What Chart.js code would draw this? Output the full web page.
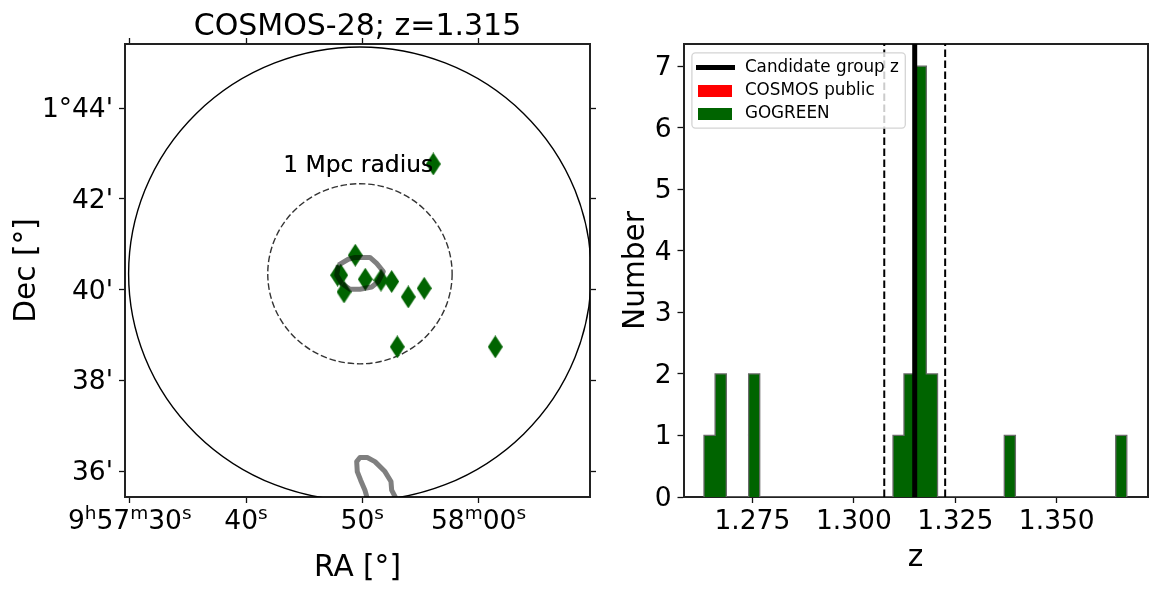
<!DOCTYPE html>
<html>
<head>
<meta charset="utf-8">
<script src="https://cdn.jsdelivr.net/npm/chart.js@4"></script>
<style>
  body { margin: 0; background: #fff; }
  canvas { position: absolute; top: 0; }
  #sky { left: 0; }
  #hist { left: 600px; }
</style>
</head>
<body>
<canvas id="sky" width="600" height="593"></canvas>
<canvas id="hist" width="560" height="593"></canvas>
<script>
// left panel: RA in seconds past 9h57m, Dec in arcmin past 1 deg
var raTicks = [30, 40, 50, 60];
// pairs of normal text and its superscript
var raTickLabels = [['9', 'h', '57', 'm', '30', 's'], ['40', 's'], ['50', 's'], ['58', 'm', '00', 's']];
var decTicks = [36, 38, 40, 42, 44];
var decTickLabels = ["36'", "38'", "40'", "42'", "1°44'"];

var memberRa = [56.11, 49.40, 47.88, 48.14, 48.43, 50.26, 51.61, 52.53, 53.96, 55.33, 53.01, 61.44];
var memberDec = [42.77, 40.76, 40.32, 40.32, 39.95, 40.23, 40.21, 40.18, 39.84, 40.03, 38.74, 38.74];

var contourRa = [47.94, 48.80, 49.37, 50.66, 51.24, 51.81, 51.38, 50.81, 49.80, 48.94, 48.23, 47.80, 47.94];
var contourDec = [40.54, 40.67, 40.71, 40.71, 40.58, 40.40, 40.18, 40.06, 40.01, 40.01, 40.14, 40.32, 40.54];
var contour2Ra = [50.43, 50.23, 49.86, 49.57, 49.52, 49.80, 50.43, 51.09, 51.95, 52.47, 52.53, 52.90];
var contour2Dec = [35.40, 35.58, 35.80, 35.99, 36.21, 36.30, 36.30, 36.21, 35.99, 35.77, 35.58, 35.40];

var fieldCentre = [49.80, 40.35];
var fieldRadius = [19.9, 5.0];   // s, arcmin
var mpcRadius = [7.93, 1.985];

// right panel: stepped histogram, one count per left bin edge
var binEdges = [1.2631, 1.2631, 1.26584, 1.2686, 1.27409, 1.27682, 1.30966, 1.31236, 1.31512, 1.31786, 1.32062, 1.33707, 1.3398, 1.36451, 1.36724];
var binCounts = [0, 1, 2, 0, 2, 0, 1, 2, 7, 2, 0, 1, 0, 1, 0];
var cosmosCounts = [];
var groupZ = 1.315;
var groupLimits = [1.3075, 1.3225];
var zTicks = [1.275, 1.300, 1.325, 1.350];
var zTickLabels = ['1.275', '1.300', '1.325', '1.350'];
var countTicks = [0, 1, 2, 3, 4, 5, 6, 7];

Chart.defaults.font.family = '"DejaVu Sans"';
Chart.defaults.color = '#000';
Chart.defaults.animation = false;

var spine = '#222';
var tickFont = { size: 26.5 };
var labelFont = { size: 29.6 };

// matplotlib thin diamond and the legend handles, used as point styles
function diamond(w, h, colour) {
    var c = document.createElement('canvas');
    c.width = w;
    c.height = h;
    var ctx = c.getContext('2d');
    ctx.fillStyle = colour;
    ctx.beginPath();
    ctx.moveTo(w / 2, 0);
    ctx.lineTo(w, h / 2);
    ctx.lineTo(w / 2, h);
    ctx.lineTo(0, h / 2);
    ctx.closePath();
    ctx.fill();
    return c;
}

function handle(w, h, colour) {
    var c = document.createElement('canvas');
    c.width = w;
    c.height = h;
    var ctx = c.getContext('2d');
    ctx.fillStyle = colour;
    ctx.fillRect(0, 0, w, h);
    return c;
}

function pts(xs, ys) {
    return xs.map(function(x, i) { return { x: x, y: ys[i] }; });
}

function axis(position, min, max, values, labels, size, extra) {
    var horizontal = position === 'top' || position === 'bottom';
    return Object.assign({
        type: 'linear',
        position: position,
        min: min,
        max: max,
        z: 1,
        border: { display: true, color: spine, width: 2 },
        grid: { drawOnChartArea: false, drawTicks: true, tickLength: 6, tickWidth: 1.3, tickColor: '#111' },
        ticks: {
            display: !!labels,
            font: tickFont,
            padding: horizontal ? 3 : 6,
            labelOffset: horizontal ? 0 : 2,
            maxRotation: 0,
            minRotation: 0,
            autoSkip: false,
            callback: function(v) {
                var i = values.indexOf(v);
                return labels && i >= 0 ? labels[i] : '';
            }
        },
        afterBuildTicks: function(scale) {
            scale.ticks = values.map(function(v) { return { value: v }; });
        },
        afterFit: function(scale) {
            if (horizontal) scale.height = size;
            else scale.width = size;
        }
    }, extra || {});
}

var skyOverlay = {
    id: 'skyOverlay',
    beforeDatasetsDraw: function(chart) {
        var ctx = chart.ctx, a = chart.chartArea, sx = chart.scales.x, sy = chart.scales.y;
        var cx = sx.getPixelForValue(fieldCentre[0]), cy = sy.getPixelForValue(fieldCentre[1]);
        function ring(r, colour, width, dash) {
            ctx.beginPath();
            ctx.ellipse(cx, cy, Math.abs(sx.getPixelForValue(fieldCentre[0] + r[0]) - cx),
                Math.abs(sy.getPixelForValue(fieldCentre[1] + r[1]) - cy), 0, 0, Math.PI * 2);
            ctx.strokeStyle = colour;
            ctx.lineWidth = width;
            ctx.setLineDash(dash);
            ctx.stroke();
        }
        ctx.save();
        ctx.beginPath();
        ctx.rect(a.left, a.top, a.right - a.left, a.bottom - a.top);
        ctx.clip();
        ring(fieldRadius, '#000', 1.4, []);
        ring(mpcRadius, '#333', 1.4, [6.5, 2.8]);
        ctx.restore();
    },
    afterDatasetsDraw: function(chart) {
        var ctx = chart.ctx, sx = chart.scales.x, sy = chart.scales.y;
        ctx.save();
        ctx.font = '23.4px "DejaVu Sans"';
        ctx.fillStyle = '#000';
        ctx.textAlign = 'center';
        ctx.textBaseline = 'alphabetic';
        ctx.shadowColor = 'rgba(0,0,0,0.7)';
        ctx.shadowOffsetX = 0.01;
        ctx.fillText('1 Mpc radius', sx.getPixelForValue(49.65), sy.getPixelForValue(42.6));
        ctx.restore();
    },
    // the RA labels mix sizes, which a single tick label cannot do
    afterDraw: function(chart) {
        var ctx = chart.ctx, sx = chart.scales.x;
        var baseline = 529;
        ctx.save();
        ctx.fillStyle = '#000';
        ctx.textAlign = 'left';
        ctx.textBaseline = 'alphabetic';
        raTicks.forEach(function(v, i) {
            var parts = raTickLabels[i];
            var sizes = parts.map(function(p, j) { return j % 2 ? 18.5 : 26.5; });
            var widths = parts.map(function(p, j) {
                ctx.font = sizes[j] + 'px "DejaVu Sans"';
                return ctx.measureText(p).width;
            });
            var x = sx.getPixelForValue(v) - widths.reduce(function(a, b) { return a + b; }, 0) / 2;
            parts.forEach(function(p, j) {
                ctx.font = sizes[j] + 'px "DejaVu Sans"';
                ctx.fillText(p, x, j % 2 ? baseline - 9.7 : baseline);
                x += widths[j];
            });
        });
        ctx.restore();
    }
};

new Chart(document.getElementById('sky'), {
    type: 'line',
    data: {
        datasets: [
            { data: pts(memberRa, memberDec), showLine: false, order: 3, pointStyle: diamond(15, 23, '#006400'), pointRadius: 8 },
            { data: pts(contourRa, contourDec), order: 1, borderColor: 'rgba(0,0,0,0.5)', borderWidth: 5, pointRadius: 0, borderJoinStyle: 'round' },
            { data: pts(contour2Ra, contour2Dec), order: 1, borderColor: 'rgba(0,0,0,0.5)', borderWidth: 5, pointRadius: 0, borderJoinStyle: 'round' }
        ]
    },
    options: {
        responsive: false,
        layout: { padding: 0 },
        plugins: { legend: { display: false }, tooltip: { enabled: false } },
        scales: {
            x: axis('bottom', 29.59, 69.59, raTicks, null, 96, {
                title: { display: true, text: 'RA [°]', font: labelFont, padding: { top: 0, bottom: 7 } }
            }),
            xTop: axis('top', 29.59, 69.59, raTicks, null, 44, {
                title: { display: true, text: 'COSMOS-28; z=1.315', font: { size: 30 }, padding: { top: 9, bottom: 0 } }
            }),
            y: axis('left', 35.43, 45.415, decTicks, decTickLabels, 125, {
                title: { display: true, text: 'Dec [°]', font: labelFont, padding: { top: 10, bottom: 0 } }
            }),
            yRight: axis('right', 35.43, 45.415, decTicks, null, 10)
        }
    },
    plugins: [skyOverlay]
});

// legend sits above the data lines, with a matplotlib style frame behind it
var legendFrame = {
    id: 'legendFrame',
    beforeLayout: function(chart) {
        var legend = chart.legend;
        legend._layers = function() {
            return [{
                z: 10,
                draw: function(area) {
                    var ctx = chart.ctx, a = chart.chartArea;
                    ctx.save();
                    ctx.beginPath();
                    ctx.roundRect(a.left + 8.4, 52.9, 213.4, 75.2, 3.5);
                    ctx.fillStyle = 'rgba(255,255,255,0.8)';
                    ctx.fill();
                    ctx.strokeStyle = '#d4d4d4';
                    ctx.lineWidth = 1.3;
                    ctx.stroke();
                    ctx.restore();
                    legend.left = a.left + 3.8;
                    legend.top = 53;
                    legend.right = a.right;
                    legend.bottom = a.bottom;
                    legend.draw(area);
                }
            }];
        };
    }
};

var plainBorder = { drawOnChartArea: false, drawTicks: false };

new Chart(document.getElementById('hist'), {
    type: 'line',
    data: {
        datasets: [
            { label: 'Candidate group z', data: pts([groupZ, groupZ], [0, 7.36]), order: 1, borderColor: '#000', borderWidth: 5, pointRadius: 0 },
            { label: 'limits', data: pts([groupLimits[0], groupLimits[0]], [0, 7.36]), order: 1, borderColor: '#000', borderWidth: 2, borderDash: [7.5, 3.5], pointRadius: 0 },
            { label: 'limits', data: pts([groupLimits[1], groupLimits[1]], [0, 7.36]), order: 1, borderColor: '#000', borderWidth: 2, borderDash: [7.5, 3.5], pointRadius: 0 },
            { label: 'COSMOS public', data: cosmosCounts, order: 4, borderColor: '#f00', backgroundColor: '#f00', pointRadius: 0 },
            { label: 'GOGREEN', data: pts(binEdges, binCounts), order: 3, stepped: true, fill: 'origin', borderColor: '#6a6a6a', borderWidth: 1.3, backgroundColor: '#006400', pointRadius: 0 }
        ]
    },
    options: {
        responsive: false,
        layout: { padding: { top: 44, right: 12.5, left: 0, bottom: 0 } },
        plugins: {
            tooltip: { enabled: false },
            legend: {
                position: 'chartArea',
                align: 'start',
                labels: {
                    usePointStyle: true,
                    pointStyleWidth: 43,
                    padding: 6.2,
                    font: { size: 16.8 },
                    generateLabels: function() {
                        return [
                            { text: 'Candidate group z', fontColor: '#000', pointStyle: handle(39, 5, '#000'), lineWidth: 0 },
                            { text: 'COSMOS public', fontColor: '#000', pointStyle: handle(34, 12, '#f00'), lineWidth: 0 },
                            { text: 'GOGREEN', fontColor: '#000', pointStyle: handle(34, 12, '#006400'), lineWidth: 0 }
                        ];
                    }
                }
            }
        },
        scales: {
            x: axis('bottom', 1.25805, 1.37234, zTicks, zTickLabels, 96, {
                title: { display: true, text: 'z', font: labelFont, padding: { top: 0, bottom: 17 } }
            }),
            xTop: axis('top', 1.25805, 1.37234, zTicks, null, 0, { grid: plainBorder }),
            y: axis('left', 0, 7.36, countTicks, countTicks.map(String), 83.5, {
                title: { display: true, text: 'Number', font: labelFont, padding: { top: 19, bottom: 0 } }
            }),
            yRight: axis('right', 0, 7.36, countTicks, null, 0, { grid: plainBorder })
        }
    },
    plugins: [legendFrame]
});
</script>
</body>
</html>
